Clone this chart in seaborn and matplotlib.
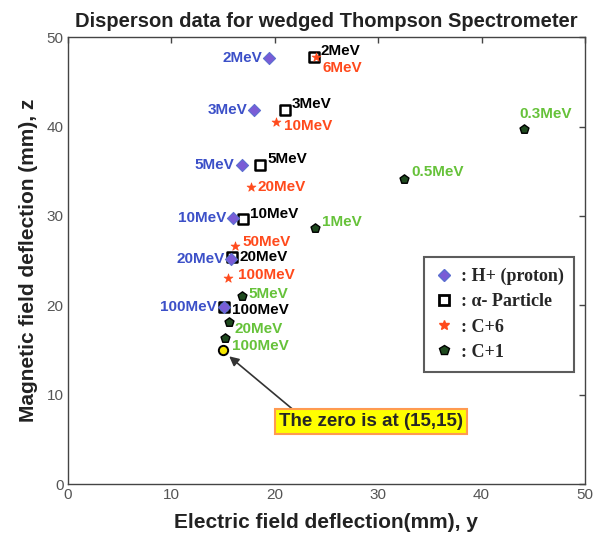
import matplotlib
matplotlib.use("Agg")
import matplotlib.pyplot as plt
import seaborn as sns
import pandas as pd
from matplotlib.lines import Line2D

# ---- data ----
hp_labels = ["2MeV", "3MeV", "5MeV", "10MeV", "20MeV", "100MeV"]
hp_y = [19.5, 18.0, 16.8, 16.0, 15.8, 15.1]
hp_z = [47.7, 41.8, 35.7, 29.8, 25.2, 19.8]

al_labels = ["2MeV", "3MeV", "5MeV", "10MeV", "20MeV", "100MeV"]
al_y = [23.8, 21.0, 18.6, 16.9, 15.9, 15.1]
al_z = [47.8, 41.9, 35.7, 29.7, 25.4, 19.8]

c6_labels = ["6MeV", "10MeV", "20MeV", "50MeV", "100MeV"]
c6_y = [24.0, 20.1, 17.7, 16.2, 15.5]
c6_z = [47.8, 40.5, 33.2, 26.6, 23.1]

c1_labels = ["0.3MeV", "0.5MeV", "1MeV", "5MeV", "20MeV", "100MeV"]
c1_y = [44.1, 32.5, 23.9, 16.8, 15.6, 15.2]
c1_z = [39.7, 34.1, 28.6, 21.1, 18.1, 16.4]

zero_y = [15.0]
zero_z = [15.0]

xticks = [0, 10, 20, 30, 40, 50]
yticks = [0, 10, 20, 30, 40, 50]

# ---- layout (label offsets in points) ----
hp_off = [(-5, 0)] * 6
al_off = [(5, 4), (5, 4), (5, 4), (5, 3), (5, 0), (6, -2)]
c6_off = [(5, -8), (6, -3), (5, 0), (5, 3), (7, 2)]
c1_off = [(-3, 11), (5, 5), (5, 5), (5, 1), (4, -5), (5, -6)]

sns.set_style("white")
plt.rcParams['font.family'] = ['Liberation Sans', 'DejaVu Sans']

fig = plt.figure(figsize=(6.05, 5.38), dpi=100)
ax = fig.add_axes([0.112, 0.100, 0.855, 0.831])

hp = pd.DataFrame({"y": hp_y, "z": hp_z})
al = pd.DataFrame({"y": al_y, "z": al_z})
c6 = pd.DataFrame({"y": c6_y, "z": c6_z})
c1 = pd.DataFrame({"y": c1_y, "z": c1_z})
zz = pd.DataFrame({"y": zero_y, "z": zero_z})

hp_col = "#7a5cd6"
c6_col = "#ff4a1c"
c1_col = "#1f4a1f"

sns.scatterplot(data=c1, x="y", y="z", marker="p", s=45, color=c1_col,
                edgecolor="black", linewidth=1.0, ax=ax, zorder=3)
sns.scatterplot(data=al, x="y", y="z", marker="s", s=60, facecolor="white",
                edgecolor="black", linewidth=1.8, ax=ax, zorder=4)
sns.scatterplot(data=hp, x="y", y="z", marker="D", s=38, color=hp_col,
                edgecolor="#5b6fd0", linewidth=0.8, ax=ax, zorder=5)
sns.scatterplot(data=c6, x="y", y="z", marker="*", s=45, color=c6_col,
                edgecolor=c6_col, linewidth=0.5, ax=ax, zorder=6)
sns.scatterplot(data=zz, x="y", y="z", marker="o", s=45, color="#f5e600",
                edgecolor="black", linewidth=1.4, ax=ax, zorder=7)

lab_kw = dict(textcoords="offset points", fontsize=11, fontweight="bold",
              va="center", zorder=8)
for t, x, y, o in zip(hp_labels, hp_y, hp_z, hp_off):
    ax.annotate(t, (x, y), xytext=o, ha="right", color="#3c50c8", **lab_kw)
for t, x, y, o in zip(al_labels, al_y, al_z, al_off):
    ax.annotate(t, (x, y), xytext=o, ha="left", color="black", **lab_kw)
for t, x, y, o in zip(c6_labels, c6_y, c6_z, c6_off):
    ax.annotate(t, (x, y), xytext=o, ha="left", color="#ff4a1c", **lab_kw)
for t, x, y, o in zip(c1_labels, c1_y, c1_z, c1_off):
    ax.annotate(t, (x, y), xytext=o, ha="left", color="#66c23a", **lab_kw)

ax.annotate("The zero is at (15,15)", xy=(15.4, 14.5), xytext=(29.3, 7.0),
            ha="center", va="center", fontsize=13.5, fontweight="bold",
            bbox=dict(boxstyle="square,pad=0.2", fc="#ffff00", ec="#ff9a50", lw=1.5),
            arrowprops=dict(arrowstyle="-|>", color="#333333", lw=1.2,
                            shrinkA=0, shrinkB=2, mutation_scale=14,
                            relpos=(0.1, 1.0)),
            zorder=9)

ax.set_xlim(0, 50)
ax.set_ylim(0, 50)
ax.set_xticks(xticks)
ax.set_yticks(yticks)
ax.tick_params(direction="in", top=True, right=True, length=4, width=1,
               colors="#444444", labelcolor="#555555", labelsize=11, pad=3)
for sp in ax.spines.values():
    sp.set_color("#444444")
    sp.set_linewidth(1.0)

ax.set_xlabel("Electric field deflection(mm), y", fontsize=15, fontweight="bold",
              color="#222222", labelpad=8)
ax.set_ylabel("Magnetic field deflection (mm), z", fontsize=15, fontweight="bold",
              color="#222222", labelpad=6)
ax.set_title("Disperson data for wedged Thompson Spectrometer", fontsize=14.5,
             fontweight="bold", color="#222222", pad=7)

handles = [
    Line2D([], [], ls="none", marker="D", ms=6, mfc=hp_col, mec="#5b6fd0"),
    Line2D([], [], ls="none", marker="s", ms=7, mfc="white", mec="black", mew=2),
    Line2D([], [], ls="none", marker="*", ms=7, mfc=c6_col, mec=c6_col),
    Line2D([], [], ls="none", marker="p", ms=7, mfc=c1_col, mec="black"),
]
names = [": H+ (proton)", ": \u03b1- Particle", ": C+6", ": C+1"]
leg = ax.legend(handles, names, loc="upper left", bbox_to_anchor=(0.672, 0.528),
                frameon=True, fancybox=False, shadow=False, handlelength=1.0,
                handletextpad=0.4, labelspacing=0.45, borderpad=0.6,
                prop=dict(family="Liberation Serif", weight="bold", size=13))
leg.get_frame().set_edgecolor("#333333")
leg.get_frame().set_linewidth(1.5)

fig.savefig("out.png", dpi=100)
